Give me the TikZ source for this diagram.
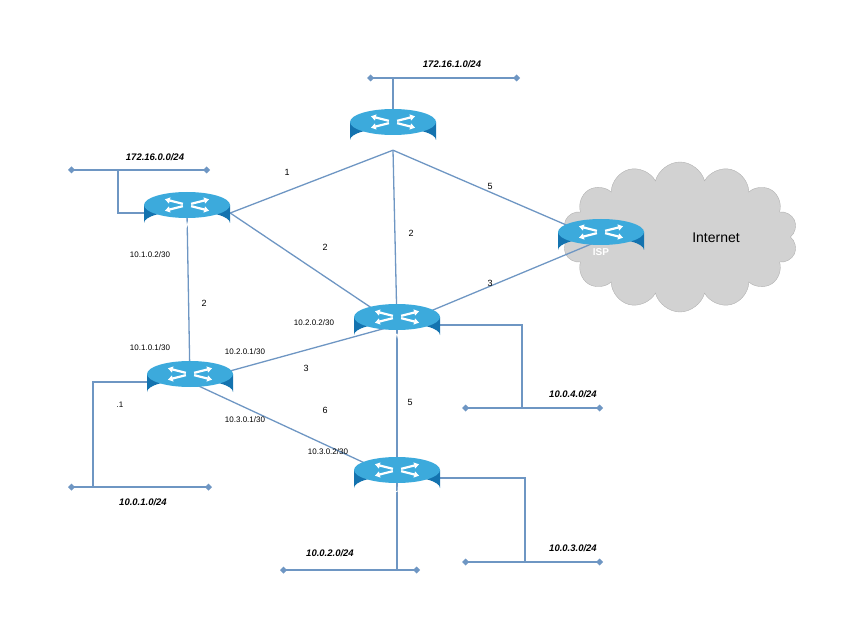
\documentclass[tikz,border=0pt]{standalone}
\usepackage{fontspec}
\setmainfont{Liberation Sans}
\usetikzlibrary{shapes.symbols,arrows.meta}
\definecolor{ln}{RGB}{110,150,195}
\definecolor{rtop}{RGB}{60,170,220}
\definecolor{rside}{RGB}{20,115,175}
\tikzset{
 link/.style={ln,line width=1.3pt},
 stub/.style={ln,line width=1.6pt,{Diamond[length=7pt,width=7pt]}-{Diamond[length=7pt,width=7pt]}},
 cost/.style={font=\fontsize{9}{10}\selectfont},
 addr/.style={font=\fontsize{8}{9}\selectfont},
 net/.style={font=\fontsize{9.5}{10}\selectfont\bfseries\itshape},
 rnode/.style={minimum width=86pt,minimum height=40pt,inner sep=0pt},
 pics/router/.style={code={
   \fill[rside] (-43,-8) -- (-43,10) arc[start angle=180,end angle=360,x radius=43,y radius=12] -- (43,-8) -- cycle;
   \fill[rtop] (0,-8) ellipse[x radius=43,y radius=13];
   \foreach \a in {35,145,215,325}{
     \draw[white,line width=2.2pt,-{Triangle[length=5pt,width=6pt]}] (0,-8) ++(\a:5pt and 2pt) -- ++(\a:22pt and 8pt);}
   \node[white,font=\bfseries\fontsize{10}{10}\selectfont] at (0,12) {#1};
 }}
}
\begin{document}
\begin{tikzpicture}[x=1pt,y=-1pt]
\useasboundingbox (0,0) rectangle (848,636);
\node[cloud,cloud puffs=14,aspect=1.7,fill=gray!35,draw=gray!60,minimum width=235pt,minimum height=150pt] (cl) at (680,237) {};
\node[font=\fontsize{14}{14}\selectfont] (inet) at (716,238) {Internet};
\node[rnode] (z) at (393,130) {};
\node[rnode] (y) at (187,213) {};
\node[rnode] (isp) at (601,240) {};
\node[rnode] (w) at (397,325) {};
\node[rnode] (x) at (190,382) {};
\node[rnode] (u) at (397,478) {};
% links
\draw[link] (z.south) -- (y.east);
\draw[link] (z.south) -- (w.center);
\draw[link] (z.south) -- (isp.center);
\draw[link] (y.east) -- (w.center);
\draw[link] (isp.center) -- (w.center);
\draw[link] (y.center) -- (x.center);
\draw[link] (x.center) -- (w.center);
\draw[link] (x.center) -- (u.center);
\draw[link] (w.center) -- (u.center);
% stubs
\coordinate (zs) at (393,78); \draw[link] (z.center) -- (zs);
\draw[stub] (367,78) -- (520,78);
\coordinate (ys) at (118,170); \draw[link] (y.center) -| (ys);
\draw[stub] (68,170) -- (210,170);
\coordinate (xs) at (93,487); \draw[link] (x.center) -| (xs);
\draw[stub] (68,487) -- (212,487);
\coordinate (ws) at (522,408); \draw[link] (w.center) -| (ws);
\draw[stub] (462,408) -- (603,408);
\coordinate (us) at (397,570); \draw[link] (u.center) -- (us);
\draw[stub] (280,570) -- (420,570);
\coordinate (us2) at (525,562); \draw[link] (u.center) -| (us2);
\draw[stub] (462,562) -- (603,562);
% routers
\pic at (z) {router=z};
\pic at (y) {router=y};
\pic at (isp) {router=ISP};
\pic at (w) {router=w};
\pic at (x) {router=x};
\pic at (u) {router=u};
% labels
\node[net] (n1) at (452,64) {172.16.1.0/24};
\node[net] (n2) at (155,157) {172.16.0.0/24};
\node[net] (n3) at (143,502) {10.0.1.0/24};
\node[net] (n4) at (573,394) {10.0.4.0/24};
\node[net] (n5) at (330,553) {10.0.2.0/24};
\node[net] (n6) at (573,548) {10.0.3.0/24};
\node[cost] (c1) at (287,172) {1};
\node[cost] (c2) at (490,186) {5};
\node[cost] (c3) at (325,247) {2};
\node[cost] (c4) at (411,233) {2};
\node[cost] (c5) at (490,283) {3};
\node[cost] (c6) at (204,303) {2};
\node[cost] (c7) at (306,368) {3};
\node[cost] (c8) at (325,410) {6};
\node[cost] (c9) at (410,402) {5};
\node[addr] (a1) at (150,255) {10.1.0.2/30};
\node[addr] (a2) at (150,348) {10.1.0.1/30};
\node[addr] (a3) at (314,323) {10.2.0.2/30};
\node[addr] (a4) at (245,352) {10.2.0.1/30};
\node[addr] (a5) at (245,420) {10.3.0.1/30};
\node[addr] (a6) at (328,452) {10.3.0.2/30};
\node[addr] (a7) at (120,405) {.1};
\end{tikzpicture}
\end{document}
